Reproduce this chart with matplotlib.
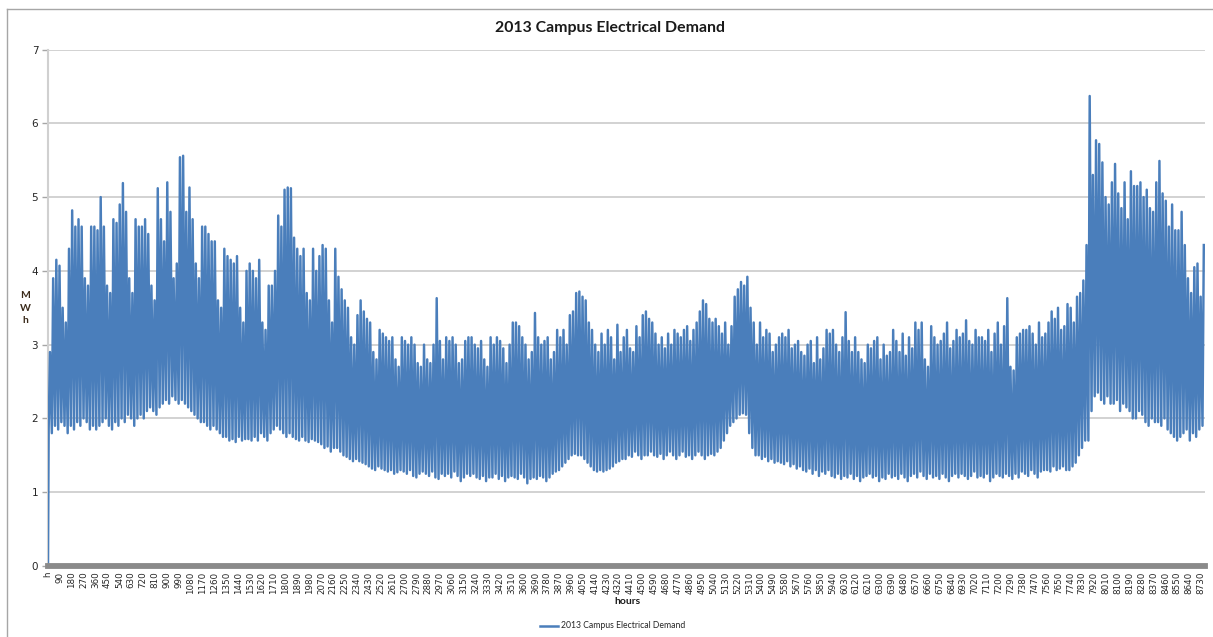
import matplotlib
matplotlib.use("Agg")
import matplotlib.pyplot as plt
from matplotlib.lines import Line2D

# Daily afternoon peak demand (MWh), one row per week starting Tue 1 Jan 2013
daily_peak = [
    2.9, 3.9, 4.15, 4.07, 3.5, 3.3, 4.3,
    4.82, 4.6, 4.7, 4.6, 3.9, 3.8, 4.6,
    4.6, 4.55, 5.0, 4.6, 3.8, 3.7, 4.7,
    4.65, 4.9, 5.19, 4.8, 3.9, 3.7, 4.7,
    4.6, 4.6, 4.7, 4.5, 3.8, 3.6, 5.12,
    4.7, 4.4, 5.2, 4.8, 3.9, 4.1, 5.54,
    5.56, 4.8, 5.13, 4.7, 4.1, 3.9, 4.6,
    4.6, 4.5, 4.4, 4.4, 3.6, 3.5, 4.3,
    4.2, 4.15, 4.1, 4.2, 3.5, 3.3, 4.0,
    4.1, 4.0, 3.9, 4.15, 3.3, 3.2, 3.8,
    3.8, 4.0, 4.75, 4.6, 5.1, 5.13, 5.12,
    4.45, 4.3, 4.2, 4.3, 3.7, 3.6, 4.3,
    4.0, 4.2, 4.35, 4.3, 3.6, 3.3, 4.3,
    3.92, 3.75, 3.6, 3.5, 3.1, 3.0, 3.4,
    3.6, 3.45, 3.35, 3.3, 2.9, 2.8, 3.2,
    3.15, 3.1, 3.05, 3.1, 2.8, 2.7, 3.1,
    3.05, 3.0, 3.1, 3.0, 2.75, 2.7, 3.0,
    2.8, 2.75, 3.0, 3.63, 3.05, 2.8, 3.1,
    3.05, 3.1, 3.0, 2.75, 2.8, 3.05, 3.1,
    3.1, 3.0, 2.95, 3.05, 2.8, 2.7, 3.1,
    3.0, 3.1, 3.05, 2.95, 2.75, 3.0, 3.3,
    3.3, 3.25, 3.1, 3.0, 2.8, 2.9, 3.43,
    3.1, 3.0, 3.05, 3.1, 2.8, 2.9, 3.2,
    3.1, 3.2, 3.0, 3.4, 3.45, 3.7, 3.72,
    3.65, 3.6, 3.3, 3.2, 3.0, 2.9, 3.15,
    3.0, 3.2, 3.1, 2.8, 3.27, 2.9, 3.1,
    3.2, 2.95, 2.9, 3.25, 3.1, 3.4, 3.45,
    3.35, 3.3, 3.15, 3.0, 3.1, 2.95, 3.15,
    3.0, 3.2, 3.15, 3.1, 3.2, 3.25, 3.05,
    3.2, 3.3, 3.45, 3.6, 3.55, 3.35, 3.3,
    3.35, 3.25, 3.15, 3.3, 3.0, 3.25, 3.65,
    3.75, 3.85, 3.8, 3.92, 3.5, 3.3, 3.0,
    3.3, 3.1, 3.2, 3.15, 2.9, 3.0, 3.1,
    3.15, 3.1, 3.2, 2.95, 3.0, 3.05, 2.9,
    2.85, 3.0, 3.05, 2.75, 3.1, 2.8, 2.95,
    3.2, 3.15, 3.2, 3.0, 2.9, 3.1, 3.44,
    3.05, 2.9, 3.1, 2.9, 2.8, 2.75, 3.0,
    2.95, 3.05, 3.1, 2.8, 3.0, 2.85, 2.9,
    3.2, 3.05, 2.9, 3.15, 2.85, 3.1, 2.95,
    3.3, 3.2, 3.3, 2.8, 2.7, 3.25, 3.1,
    3.0, 3.05, 3.15, 3.3, 2.95, 3.05, 3.2,
    3.1, 3.15, 3.33, 3.05, 3.0, 3.2, 3.1,
    3.1, 3.05, 3.2, 2.9, 3.15, 3.3, 3.0,
    3.25, 3.63, 2.7, 2.65, 3.1, 3.15, 3.2,
    3.2, 3.25, 3.15, 3.0, 3.3, 3.1, 3.15,
    3.3, 3.45, 3.35, 3.5, 3.2, 3.25, 3.55,
    3.5, 3.3, 3.65, 3.7, 3.87, 4.35, 6.37,
    5.3, 5.77, 5.72, 5.47, 5.0, 4.9, 5.2,
    5.45, 5.05, 4.85, 5.2, 4.7, 5.35, 5.15,
    5.15, 5.2, 5.0, 5.1, 4.85, 4.8, 5.2,
    5.49, 5.05, 4.95, 4.6, 4.9, 4.55, 4.55,
    4.8, 4.35, 3.9, 3.7, 4.05, 4.1, 3.65,
    4.35,
]

# Daily early-morning base demand (MWh), same layout
daily_trough = [
    1.85, 1.8, 1.9, 1.85, 1.95, 1.9, 1.8,
    1.9, 1.85, 1.95, 1.9, 2.0, 1.95, 1.85,
    1.9, 1.85, 1.9, 1.95, 2.0, 1.9, 1.85,
    1.95, 1.9, 2.0, 1.95, 2.05, 2.0, 1.9,
    2.0, 2.05, 2.0, 2.1, 2.15, 2.1, 2.05,
    2.15, 2.2, 2.25, 2.2, 2.3, 2.25, 2.2,
    2.25, 2.2, 2.15, 2.1, 2.05, 2.0, 1.95,
    1.95, 1.9, 1.85, 1.9, 1.85, 1.8, 1.75,
    1.75, 1.7, 1.72, 1.68, 1.75, 1.7, 1.72,
    1.72, 1.7, 1.75, 1.7, 1.8, 1.75, 1.7,
    1.8, 1.85, 1.9, 1.85, 1.8, 1.75, 1.8,
    1.75, 1.72, 1.7, 1.75, 1.7, 1.68, 1.72,
    1.7, 1.68, 1.65, 1.6, 1.62, 1.55, 1.6,
    1.6, 1.55, 1.5, 1.48, 1.45, 1.42, 1.45,
    1.42, 1.4, 1.38, 1.35, 1.32, 1.3, 1.35,
    1.32, 1.3, 1.28, 1.3, 1.25, 1.27, 1.3,
    1.28, 1.25, 1.3, 1.22, 1.2, 1.25, 1.28,
    1.25, 1.22, 1.28, 1.2, 1.18, 1.25, 1.22,
    1.25, 1.2, 1.28, 1.22, 1.15, 1.2, 1.25,
    1.22, 1.25, 1.2, 1.18, 1.22, 1.15, 1.2,
    1.2, 1.25, 1.18, 1.22, 1.15, 1.2, 1.22,
    1.2, 1.18, 1.25, 1.2, 1.12, 1.18, 1.2,
    1.18, 1.22, 1.2, 1.15, 1.2, 1.25, 1.28,
    1.3, 1.35, 1.4, 1.45, 1.5, 1.52, 1.5,
    1.5, 1.45, 1.4, 1.35, 1.3, 1.28, 1.3,
    1.28, 1.3, 1.32, 1.35, 1.4, 1.42, 1.45,
    1.45, 1.5, 1.48, 1.55, 1.5, 1.45, 1.5,
    1.5, 1.55, 1.5, 1.48, 1.52, 1.45, 1.5,
    1.55, 1.5, 1.45, 1.5, 1.55, 1.48, 1.5,
    1.45, 1.5, 1.55, 1.5, 1.45, 1.5, 1.52,
    1.5, 1.55, 1.6, 1.7, 1.8, 1.9, 1.95,
    2.0, 2.05, 2.07, 2.05, 1.8, 1.6, 1.5,
    1.5, 1.45, 1.48, 1.42, 1.45, 1.4, 1.42,
    1.4, 1.38, 1.42, 1.35, 1.38, 1.32, 1.35,
    1.3, 1.28, 1.32, 1.25, 1.3, 1.22, 1.28,
    1.25, 1.3, 1.22, 1.2, 1.25, 1.18, 1.22,
    1.2, 1.25, 1.18, 1.22, 1.15, 1.2, 1.22,
    1.25, 1.2, 1.22, 1.15, 1.2, 1.18, 1.25,
    1.2, 1.22, 1.18, 1.25, 1.2, 1.15, 1.22,
    1.25, 1.2, 1.28, 1.22, 1.18, 1.25, 1.2,
    1.22, 1.18, 1.25, 1.2, 1.15, 1.22, 1.25,
    1.2, 1.25, 1.22, 1.18, 1.22, 1.28, 1.2,
    1.22, 1.2, 1.25, 1.15, 1.2, 1.25, 1.22,
    1.2, 1.25, 1.22, 1.18, 1.25, 1.2, 1.28,
    1.25, 1.22, 1.3, 1.25, 1.2, 1.28, 1.3,
    1.3, 1.28, 1.35, 1.3, 1.32, 1.35, 1.3,
    1.3, 1.35, 1.4, 1.5, 1.6, 1.7, 1.7,
    2.1, 2.3, 2.35, 2.25, 2.2, 2.3, 2.2,
    2.2, 2.25, 2.1, 2.2, 2.15, 2.1, 2.0,
    2.0, 2.1, 2.05, 1.95, 1.9, 2.0, 1.95,
    1.95, 1.9, 2.0, 1.85, 1.8, 1.75, 1.7,
    1.75, 1.8, 1.85, 1.7, 1.8, 1.75, 1.85,
    1.9,
]

header_value = 0.0          # the "h" header row plotted as the first category
trough_hour = 5             # hour of day of the overnight minimum
peak_hour = 15              # hour of day of the afternoon maximum
hours_in_year = 8760
label_step = 90
tick_labels = ["h"] + [str(h) for h in range(label_step, hours_in_year, label_step)]

series_name = "2013 Campus Electrical Demand"
line_color = "#4a7ebb"

# hourly line: header point, then each day's overnight low and afternoon high
xs = [0]
ys = [header_value]
for day, (lo, hi) in enumerate(zip(daily_trough, daily_peak)):
    xs += [24 * day + trough_hour, 24 * day + peak_hour]
    ys += [lo, hi]

W, H = 1213, 637
fig = plt.figure(figsize=(W / 100, H / 100), dpi=100)
fig.patch.set_facecolor("white")

# chart-area frame (only the top and left edges fall inside the image)
fig.add_artist(Line2D([7 / W, 7 / W], [0, 1 - 9 / H], color="#a6a6a6", lw=1.0))
fig.add_artist(Line2D([7 / W, 1], [1 - 9 / H, 1 - 9 / H], color="#a6a6a6", lw=1.0))

ax = fig.add_axes([48 / W, (H - 566) / H, 1157 / W, 516.5 / H])
ax.plot(xs, ys, color=line_color, lw=1.75, solid_joinstyle="round", zorder=3)

ax.set_xlim(0, hours_in_year)
ax.set_ylim(0, 7)
ax.set_yticks(range(0, 8))
ax.yaxis.grid(True, color="#cfcfcf", lw=1.3)
ax.set_axisbelow(True)

ax.set_xticks(range(0, hours_in_year, label_step))
ax.set_xticklabels(tick_labels, rotation=90, fontsize=6.3, color="#262626",
                   family="DejaVu Sans")
ax.tick_params(axis="x", length=0, pad=4)
ax.tick_params(axis="y", length=4, width=1, color="#a6a6a6", labelsize=7.5,
               labelcolor="#262626", pad=3)

for s in ("top", "right"):
    ax.spines[s].set_visible(False)
ax.spines["left"].set_color("#d0d0d0")
ax.spines["left"].set_linewidth(1.5)
ax.spines["bottom"].set_color("#8a8a8a")
ax.spines["bottom"].set_linewidth(4.2)
ax.spines["bottom"].set_zorder(4)

fig.text(610 / W, 1 - 28 / H, series_name, ha="center", va="center",
         fontsize=11.4, fontweight="bold", family="Lato", color="#1a1a1a")
fig.text(25 / W, 1 - 308 / H, "M\nW\nh", ha="center", va="center",
         fontsize=7.5, fontweight="bold", family="Lato", color="#3a2a1a",
         linespacing=1.45)
fig.text(627 / W, 1 - 601 / H, "hours", ha="center", va="center",
         fontsize=7.5, fontweight="bold", family="Lato", color="#1a1a1a")

# legend entry below the axis title
fig.add_artist(Line2D([540 / W, 558 / W], [1 - 626 / H, 1 - 626 / H],
                      color=line_color, lw=1.8))
fig.text(561 / W, 1 - 626 / H, series_name, ha="left", va="center",
         fontsize=6.2, family="Lato", color="#262626")

fig.savefig("out.png", dpi=100)
